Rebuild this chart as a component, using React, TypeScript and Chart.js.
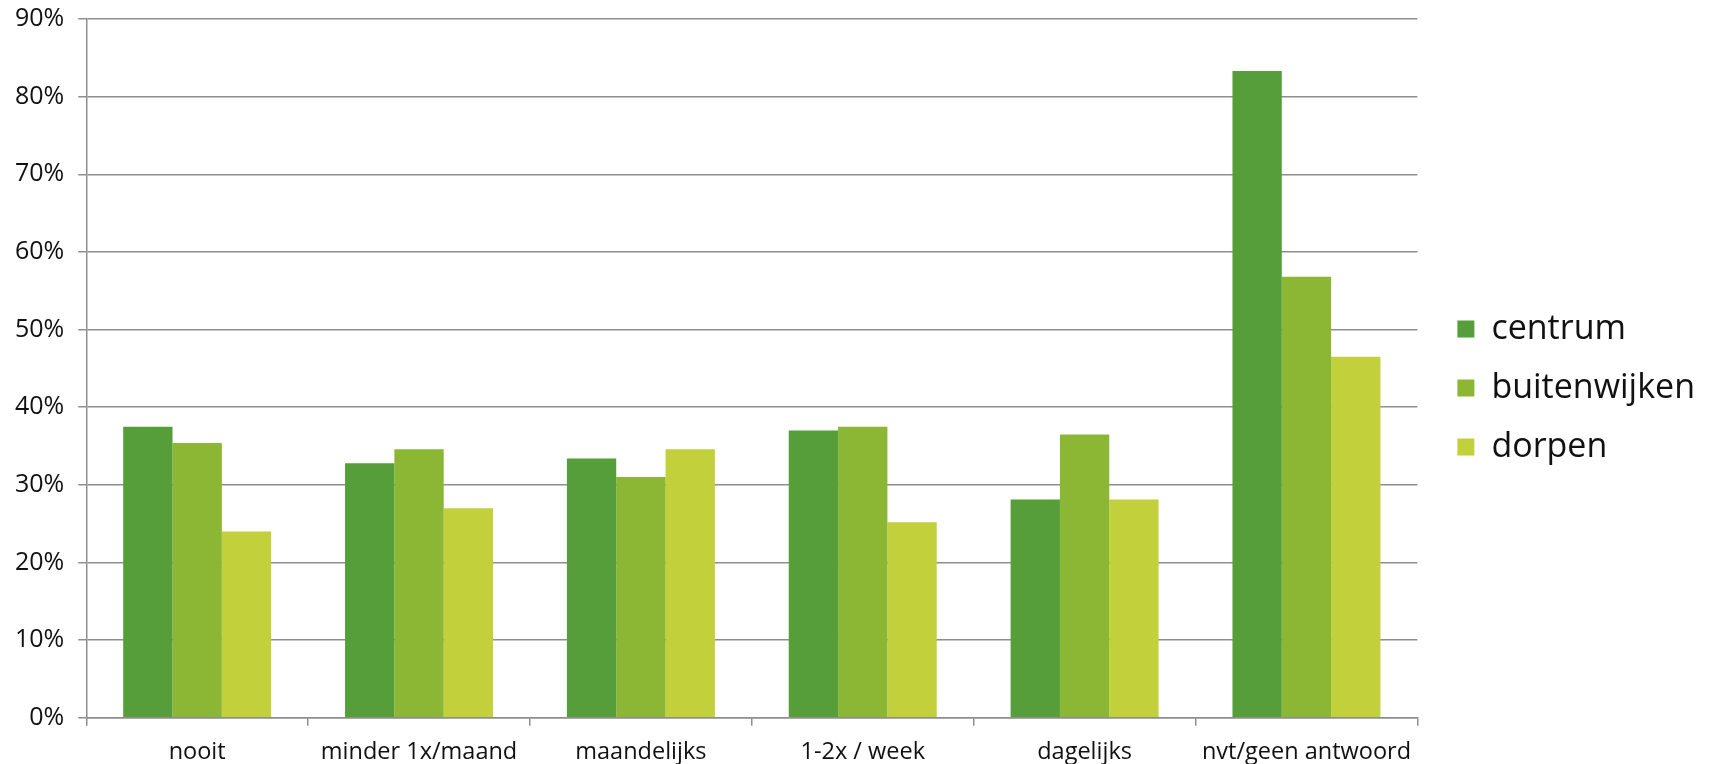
import React, { useEffect, useRef } from "react";
import { Chart, registerables } from "chart.js";

Chart.register(...registerables);

const categories = ["nooit", "minder 1x/maand", "maandelijks", "1-2x / week", "dagelijks", "nvt/geen antwoord"];
const centrum = [37.5, 32.8, 33.4, 37.0, 28.1, 83.3];
const buitenwijken = [35.4, 34.6, 31.0, 37.5, 36.5, 56.8];
const dorpen = [24.0, 27.0, 34.6, 25.2, 28.1, 46.5];
const seriesNames = ["centrum", "buitenwijken", "dorpen"];
const yTicks = [0, 10, 20, 30, 40, 50, 60, 70, 80, 90];

const FONT = "'Open Sans', Lato, sans-serif";
const GRID = "#8e8e8e";

const legendShift = {
  id: "legendShift",
  afterLayout(chart: any) {
    const lg = chart.legend;
    if (lg) {
      lg.top += 4;
      lg.bottom += 4;
      lg.left += 15;
      lg.right += 15;
    }
  },
};

export default function App() {
  const ref = useRef<HTMLCanvasElement | null>(null);
  useEffect(() => {
    if (!ref.current) return;
    const chart = new Chart(ref.current, {
      type: "bar",
      data: {
        labels: categories,
        datasets: [
          { label: seriesNames[0], data: centrum, backgroundColor: "#559e3a" },
          { label: seriesNames[1], data: buitenwijken, backgroundColor: "#8bb734" },
          { label: seriesNames[2], data: dorpen, backgroundColor: "#c2d03b" },
        ],
      },
      plugins: [legendShift],
      options: {
        animation: false,
        responsive: true,
        maintainAspectRatio: false,
        layout: { padding: { left: 1, right: 25, top: 0, bottom: 0 } },
        datasets: { bar: { categoryPercentage: 0.667, barPercentage: 1 } },
        plugins: {
          tooltip: { enabled: false },
          legend: {
            position: "right",
            labels: {
              color: "#111",
              font: { family: FONT, size: 34 },
              boxWidth: 17,
              boxHeight: 17,
              padding: 25,
            },
          },
        },
        scales: {
          x: {
            grid: { offset: true, drawOnChartArea: false, drawTicks: true, tickLength: 8, color: GRID, lineWidth: 1.5 },
            border: { display: true, color: GRID, width: 1.5 },
            ticks: { color: "#111", font: { family: FONT, size: 23.5 }, padding: 12, maxRotation: 0 },
          },
          y: {
            min: 0,
            max: 90,
            afterBuildTicks: (axis: any) => {
              axis.ticks = yTicks.map((v) => ({ value: v }));
            },
            grid: { color: GRID, lineWidth: 1.5, tickLength: 8 },
            border: { display: true, color: GRID, width: 1.5 },
            ticks: {
              color: "#111",
              font: { family: FONT, size: 25 },
              padding: 14,
              callback: (v: any) => v + "%",
            },
          },
        },
      },
    });
    return () => chart.destroy();
  }, []);
  return (
    <div style={{ position: "fixed", left: 0, top: -10, width: 1715, height: 788, background: "#fff" }}>
      <canvas ref={ref} />
    </div>
  );
}
